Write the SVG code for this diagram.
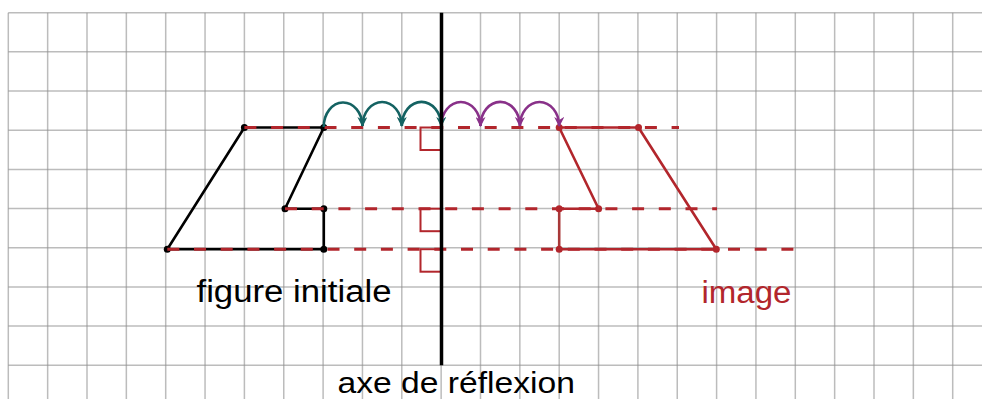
<svg xmlns="http://www.w3.org/2000/svg" width="982" height="399" viewBox="0 0 982 399">
<style>
.grid line{stroke:#909090;stroke-opacity:0.6;stroke-width:1.5}
.lbl{font-family:"Liberation Sans",Arial,sans-serif;font-size:31px}
.blk{fill:none;stroke:#000;stroke-width:2.6;stroke-linejoin:round}
.red{fill:none;stroke:#b2262c;stroke-width:2.6;stroke-linejoin:round}
.dash{fill:none;stroke:#b2262c;stroke-width:3;stroke-dasharray:12 14.7}
.ra{fill:none;stroke:#b2262c;stroke-width:2}
.teal{fill:none;stroke:#146262;stroke-width:2.6}
.purp{fill:none;stroke:#893189;stroke-width:2.6}
</style>
<defs>
<marker id="ah-teal" viewBox="0 0 10 10" refX="9" refY="5" markerWidth="10" markerHeight="10" markerUnits="userSpaceOnUse" orient="auto"><path d="M0,0 L10,5 L0,10 L3,5 z" fill="#146262"/></marker>
<marker id="ah-purp" viewBox="0 0 10 10" refX="9" refY="5" markerWidth="10" markerHeight="10" markerUnits="userSpaceOnUse" orient="auto"><path d="M0,0 L10,5 L0,10 L3,5 z" fill="#893189"/></marker>
</defs>
<rect width="982" height="399" fill="#fff"/>
<g id="grid" class="grid">
<line x1="8.3" y1="12.7" x2="8.3" y2="399"/>
<line x1="47.65" y1="12.7" x2="47.65" y2="399"/>
<line x1="87" y1="12.7" x2="87" y2="399"/>
<line x1="126.35" y1="12.7" x2="126.35" y2="399"/>
<line x1="165.7" y1="12.7" x2="165.7" y2="399"/>
<line x1="205.05" y1="12.7" x2="205.05" y2="399"/>
<line x1="244.4" y1="12.7" x2="244.4" y2="399"/>
<line x1="283.75" y1="12.7" x2="283.75" y2="399"/>
<line x1="323.1" y1="12.7" x2="323.1" y2="399"/>
<line x1="362.45" y1="12.7" x2="362.45" y2="399"/>
<line x1="401.8" y1="12.7" x2="401.8" y2="399"/>
<line x1="441.15" y1="12.7" x2="441.15" y2="399"/>
<line x1="480.5" y1="12.7" x2="480.5" y2="399"/>
<line x1="519.85" y1="12.7" x2="519.85" y2="399"/>
<line x1="559.2" y1="12.7" x2="559.2" y2="399"/>
<line x1="598.55" y1="12.7" x2="598.55" y2="399"/>
<line x1="637.9" y1="12.7" x2="637.9" y2="399"/>
<line x1="677.25" y1="12.7" x2="677.25" y2="399"/>
<line x1="716.6" y1="12.7" x2="716.6" y2="399"/>
<line x1="755.95" y1="12.7" x2="755.95" y2="399"/>
<line x1="795.3" y1="12.7" x2="795.3" y2="399"/>
<line x1="834.65" y1="12.7" x2="834.65" y2="399"/>
<line x1="874" y1="12.7" x2="874" y2="399"/>
<line x1="913.35" y1="12.7" x2="913.35" y2="399"/>
<line x1="952.7" y1="12.7" x2="952.7" y2="399"/>
<line x1="8.3" y1="12.7" x2="982" y2="12.7"/>
<line x1="8.3" y1="51.87" x2="982" y2="51.87"/>
<line x1="8.3" y1="91.04" x2="982" y2="91.04"/>
<line x1="8.3" y1="130.21" x2="982" y2="130.21"/>
<line x1="8.3" y1="169.38" x2="982" y2="169.38"/>
<line x1="8.3" y1="208.55" x2="982" y2="208.55"/>
<line x1="8.3" y1="247.72" x2="982" y2="247.72"/>
<line x1="8.3" y1="286.89" x2="982" y2="286.89"/>
<line x1="8.3" y1="326.06" x2="982" y2="326.06"/>
<line x1="8.3" y1="365.23" x2="982" y2="365.23"/>
</g>
<g id="figure-initiale">
<polygon class="blk" points="167.3,249.2 244.4,127.5 323.8,127.5 285,208.7 323.8,208.7 323.8,249.2"/>
<g fill="#000">
<circle cx="167.3" cy="249.2" r="3.5"/><circle cx="244.4" cy="127.5" r="3.5"/><circle cx="323.8" cy="127.5" r="3.5"/>
<circle cx="285" cy="208.7" r="3.5"/><circle cx="323.8" cy="208.7" r="3.5"/><circle cx="323.8" cy="249.2" r="3.5"/>
</g>
</g>
<g id="image">
<polyline class="red" points="559.2,208.7 598.6,208.7 559.2,127.5 638.5,127.5 716.3,249.2 559.2,249.2"/>
<line x1="559.2" y1="208.7" x2="559.2" y2="249.2" stroke="#a83838" stroke-width="2.6"/>
<g fill="#b2262c">
<circle cx="559.2" cy="127.5" r="3.5"/><circle cx="638.5" cy="127.5" r="3.5"/><circle cx="716.3" cy="249.2" r="3.5"/>
<circle cx="559.2" cy="249.2" r="3.5"/><circle cx="559.2" cy="208.7" r="3.5"/><circle cx="598.6" cy="208.7" r="3.5"/>
</g>
</g>
<g id="connectors">
<line class="dash" x1="244.4" y1="127.5" x2="679" y2="127.5"/>
<line class="dash" x1="285" y1="208.7" x2="717" y2="208.7" stroke="#a83838"/>
<line class="dash" x1="167.3" y1="249.2" x2="795" y2="249.2"/>
<rect class="ra" x="420.5" y="127.5" width="20.5" height="22.5"/>
<rect class="ra" x="420.5" y="208.7" width="20.5" height="22.5"/>
<rect class="ra" x="420.5" y="249.2" width="20.5" height="22.5"/>
<path class="teal" marker-end="url(#ah-teal)" d="M323.8,127 A19.3,24 0 0 1 362.5,126"/>
<path class="teal" marker-end="url(#ah-teal)" d="M362.5,126 A19.6,24 0 0 1 401.8,126"/>
<path class="teal" marker-end="url(#ah-teal)" d="M401.8,126 A19.6,24 0 0 1 441.2,126"/>
<path class="purp" marker-end="url(#ah-purp)" d="M441.2,126 A19.6,24 0 0 1 480.5,126"/>
<path class="purp" marker-end="url(#ah-purp)" d="M480.5,126 A19.6,24 0 0 1 519.9,126"/>
<path class="purp" marker-end="url(#ah-purp)" d="M519.9,126 A19.6,24 0 0 1 559.2,126"/>
</g>
<g id="axe">
<line x1="441.5" y1="12.7" x2="441.5" y2="365.2" stroke="#000" stroke-width="3.5"/>
</g>
<g id="labels">
<text class="lbl" x="196.5" y="302.3" fill="#000" textLength="195" lengthAdjust="spacingAndGlyphs">figure initiale</text>
<text class="lbl" x="701.5" y="302.8" fill="#b2262c" textLength="90" lengthAdjust="spacingAndGlyphs">image</text>
<text class="lbl" x="337.5" y="392.5" fill="#000" style="font-size:30px" textLength="237.5" lengthAdjust="spacingAndGlyphs">axe de réflexion</text>
</g>
</svg>
